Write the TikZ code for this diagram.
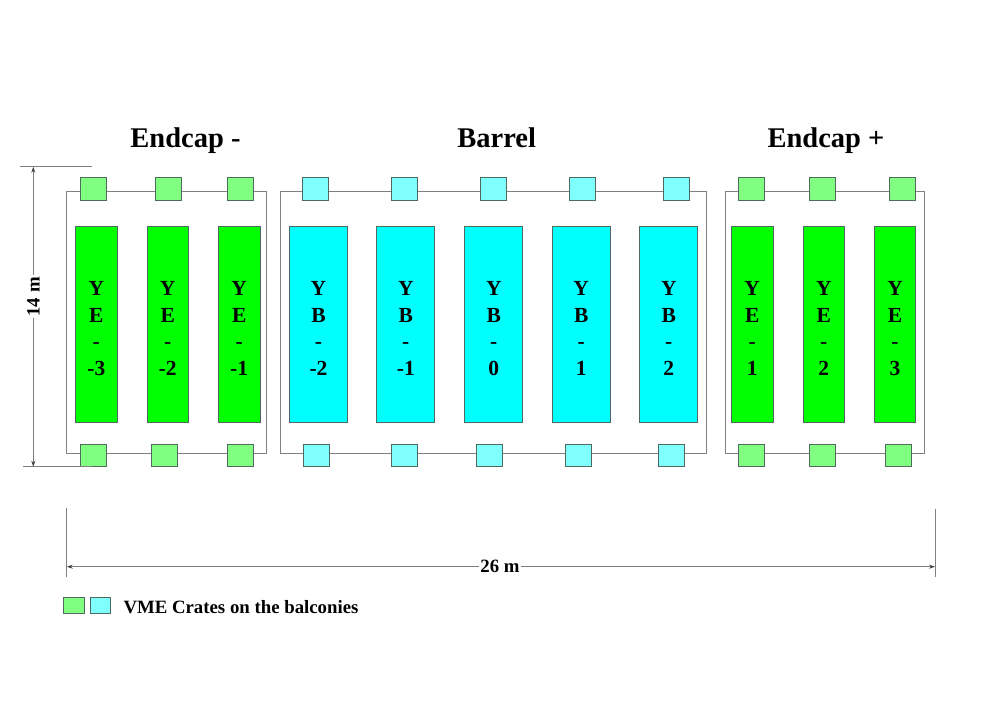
\documentclass[tikz,border=0pt]{standalone}
\usepackage{fontspec}
\setmainfont{Liberation Serif}
\usetikzlibrary{arrows.meta}
\definecolor{ecgreen}{HTML}{00FF00}
\definecolor{ecgreenlt}{HTML}{80FF80}
\definecolor{bcyan}{HTML}{00FFFF}
\definecolor{bcyanlt}{HTML}{80FFFF}
\definecolor{edge}{HTML}{4F6A5E}
\definecolor{rail}{HTML}{808080}
\tikzset{
  >={Stealth[length=6pt,width=4pt,color=black!75]},
  crate/.style={draw=edge,line width=0.8pt,minimum width=26pt,minimum height=22.5pt,inner sep=0pt},
  gcrate/.style={crate,fill=ecgreenlt},
  ccrate/.style={crate,fill=bcyanlt},
  wheel/.style={draw=edge,line width=0.8pt,minimum height=196pt,inner sep=0pt},
  ewheel/.style={wheel,fill=ecgreen,minimum width=41.5pt},
  bwheel/.style={wheel,fill=bcyan,minimum width=58pt},
  wtext/.style={align=center,inner sep=0pt,font=\fontsize{21.5}{26.7}\selectfont\bfseries},
  title/.style={font=\fontsize{28.5}{32}\selectfont\bfseries,anchor=base},
  lab/.style={font=\fontsize{18.8}{22}\selectfont\bfseries},
  yoke/.style={draw=rail,line width=0.8pt},
  dim/.style={draw=rail,line width=0.8pt},
}
\begin{document}
\begin{tikzpicture}[x=1pt,y=-1pt]
\useasboundingbox[fill=white] (0,0) rectangle (992,701);
% titles
\node[title] (tecm) at (185.5,147.3) {Endcap -};
\node[title] (tbar) at (496.7,147.3) {Barrel};
\node[title] (tecp) at (826,147.3) {Endcap +};
% balcony frames
\draw[yoke] (66.7,191.7) rectangle (266.7,453.3);
\draw[yoke] (280.7,191) rectangle (706.7,453.3);
\draw[yoke] (725,191.7) rectangle (924.3,453.3);
% wheels
\foreach \x/\n [count=\i] in {96.3/-3,167.7/-2,239.2/-1}{
  \node[ewheel] (yem\i) at (\x,324.7) {};
  \node[wtext] (yemt\i) at (\x,328.5) {Y\\E\\-\\\n};}
\foreach \x/\n [count=\i] in {318.5/-2,405.8/-1,493.8/0,581.2/1,668.8/2}{
  \node[bwheel] (yb\i) at (\x,324.8) {};
  \node[wtext] (ybt\i) at (\x,328.5) {Y\\B\\-\\\n};}
\foreach \x/\n [count=\i] in {752.2/1,823.8/2,895/3}{
  \node[ewheel] (yep\i) at (\x,324.7) {};
  \node[wtext] (yept\i) at (\x,328.5) {Y\\E\\-\\\n};}
% crates on the balconies
\foreach \x [count=\i] in {93.7,168.8,240,751,822.3,902}
  \node[gcrate] (gtop\i) at (\x,188.7) {};
\foreach \x [count=\i] in {93.7,164.8,240,751,822.5,898.3}
  \node[gcrate] (gbot\i) at (\x,455.5) {};
\foreach \x [count=\i] in {315.8,404.3,493.3,582.3,676}
  \node[ccrate] (ctop\i) at (\x,188.7) {};
\foreach \x [count=\i] in {316,404.3,489,578.3,671.7}
  \node[ccrate] (cbot\i) at (\x,455.5) {};
% 14 m
\coordinate (ht) at (33.3,166.7);
\coordinate (hb) at (33.3,466.7);
\draw[dim] (20,166.7) -- (92,166.7);
\draw[dim] (23,466.7) -- (92,466.7);
\draw[dim,<->] (ht) -- node[lab,fill=white,rotate=90,inner sep=2pt,pos=0.434] (h14) {14 m} (hb);
% 26 m
\coordinate (wl) at (66.7,566.7);
\coordinate (wr) at (935,566.7);
\draw[dim] (66.7,508) -- (66.7,577);
\draw[dim] (935,509) -- (935,577);
\draw[dim,<->] (wl) -- node[lab,fill=white,inner sep=1pt,pos=0.499] (w26) {26 m} (wr);
% legend
\node[gcrate,minimum width=20.5pt,minimum height=16pt] (lg) at (73.7,605.3) {};
\node[ccrate,minimum width=20.5pt,minimum height=16pt] (lc) at (100.3,605.3) {};
\node[lab,anchor=base west,inner sep=0pt] (ltxt) at (123.3,613.3) {VME Crates on the balconies};
\end{tikzpicture}
\end{document}
